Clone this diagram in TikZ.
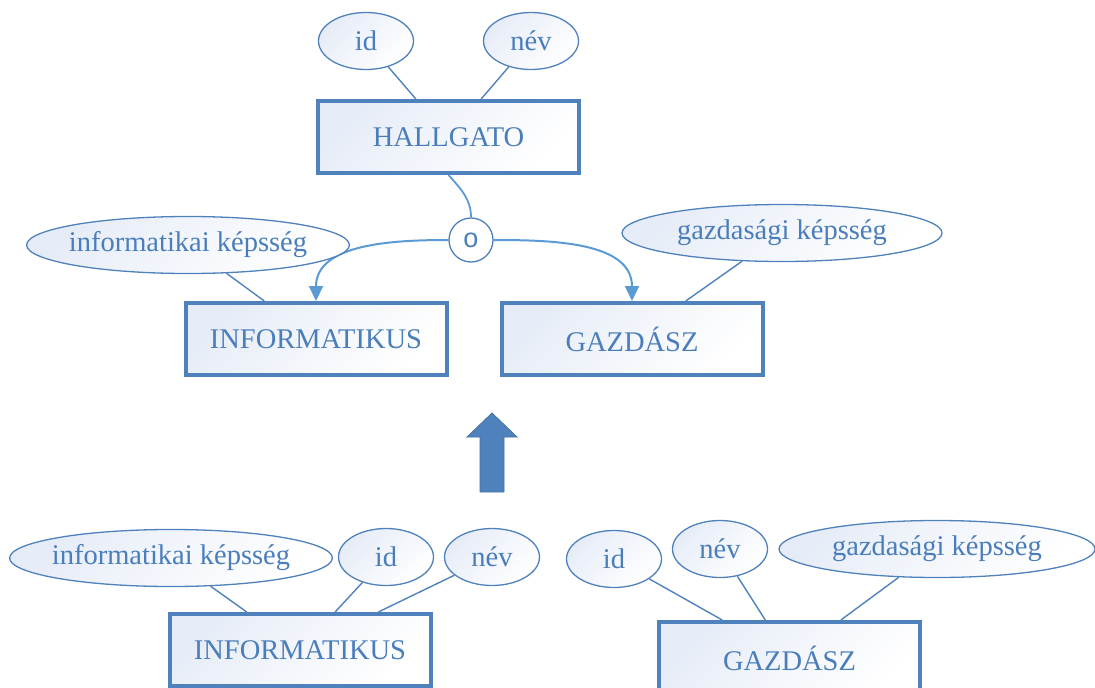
\documentclass[tikz,border=0pt]{standalone}
\usepackage{fontspec}
\setmainfont{Liberation Serif}
\newfontfamily\isafont{Liberation Sans}
\usepackage{tikz}
\usetikzlibrary{shapes.geometric,arrows.meta}

\definecolor{entblue}{HTML}{4F81BD}
\definecolor{txtblue}{HTML}{4A7EBB}
\definecolor{arcblue}{HTML}{5B9BD5}
\definecolor{entshade}{HTML}{E6ECF7}
\definecolor{bigdark}{HTML}{41719C}

\begin{document}
\begin{tikzpicture}[
  x=1pt, y=-1pt,
  font=\fontsize{28.5}{34}\selectfont,
  >={Triangle[length=15pt,width=14pt]},
  ent/.style={rectangle, draw=entblue, line width=4pt, top color=entshade,
    bottom color=white, shading angle=45, minimum width=261pt,
    minimum height=72pt, inner sep=0pt, text=txtblue},
  attr/.style={ellipse, draw=entblue, line width=1.3pt, top color=entshade,
    bottom color=white, shading angle=45, inner xsep=-5pt, inner ysep=0pt,
    minimum width=95pt, minimum height=57pt, text=txtblue},
  isa/.style={circle, draw=entblue, line width=1.3pt, fill=white,
    minimum size=44pt, inner sep=0pt, text=txtblue,
    font=\isafont\fontsize{27}{30}\selectfont},
  ln/.style={draw=entblue, line width=1.4pt},
  ar/.style={->, draw=arcblue, line width=2pt}
]
\useasboundingbox (0,0) rectangle (1095,688);
% Upper schema: HALLGATO with specialisations
\node[ent] (hall) at (448.5,137) {HALLGATO};
\node[attr] (hid)  at (366,41) {id};
\node[attr] (hnev) at (531,41) {név};
\draw[ln] (hid) -- (hall);
\draw[ln] (hnev) -- (hall);
% overlapping specialisation
\node[isa] (ovl) at (471,240) {o};
\draw[draw=arcblue, line width=1.8pt] (hall.south) .. controls (462,190) and (471,200) .. (ovl.north);
\node[ent] (infm) at (316,339) {INFORMATIKUS};
\node[ent] (gazm) at (632,339) {GAZDÁSZ};
\draw[ar] (ovl.west) to[out=180, in=90] (infm.north);
\draw[ar] (ovl.east) to[out=0, in=90] (gazm.north);
\node[attr, minimum width=319pt] (infk) at (188,245) {informatikai képsség};
\node[attr, minimum width=320pt] (gazk) at (782,233) {gazdasági képsség};
\draw[ln] (infk) -- (infm);
\draw[ln] (gazk) -- (gazm);
% Transformation arrow
\filldraw[fill=entblue, draw=bigdark, line width=0.8pt]
  (492,413) -- (517,437) -- (504,437) -- (504,492) -- (480,492)
  -- (480,437) -- (467,437) -- cycle;
% Lower schema: separate entities
\node[ent] (infb) at (300,650) {INFORMATIKUS};
\node[attr, minimum width=318pt] (binfk) at (171,558) {informatikai képsség};
\node[attr] (bid)  at (386,557) {id};
\node[attr] (bnev) at (492,557) {név};
\draw[ln] (binfk) -- (infb);
\draw[ln] (bid) -- (infb);
\draw[ln] (bnev) -- (infb);
\node[ent] (gazb) at (789.5,658) {GAZDÁSZ};
\node[attr] (gid)  at (614,559) {id};
\node[attr] (gnev) at (720,549) {név};
\node[attr, minimum width=316pt] (ggazk) at (937,549) {gazdasági képsség};
\draw[ln] (gid) -- (gazb);
\draw[ln] (gnev) -- (gazb);
\draw[ln] (ggazk) -- (gazb);
\end{tikzpicture}
\end{document}
